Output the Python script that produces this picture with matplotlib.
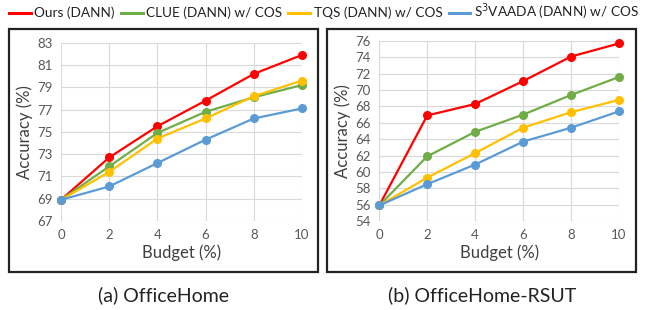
import matplotlib
matplotlib.use("Agg")
import matplotlib.pyplot as plt
from matplotlib.patches import Rectangle
from matplotlib.lines import Line2D

plt.rcParams['font.family'] = ['Lato', 'DejaVu Sans']

budget = [0, 2, 4, 6, 8, 10]
series_names = ["Ours (DANN)", "CLUE (DANN) w/ COS", "TQS (DANN) w/ COS", "S$^3$VAADA (DANN) w/ COS"]
colors = ["#FF0000", "#70AD47", "#FFC000", "#5B9BD5"]

# (a) OfficeHome
oh_ours = [68.9, 72.7, 75.5, 77.8, 80.2, 81.9]
oh_clue = [68.9, 71.9, 74.9, 76.8, 78.1, 79.2]
oh_tqs = [68.9, 71.4, 74.4, 76.2, 78.2, 79.6]
oh_s3 = [68.9, 70.1, 72.2, 74.3, 76.2, 77.1]
oh_yticks = [67, 69, 71, 73, 75, 77, 79, 81, 83]

# (b) OfficeHome-RSUT
rs_ours = [55.9, 66.9, 68.3, 71.1, 74.1, 75.7]
rs_clue = [55.9, 61.9, 64.9, 67.0, 69.4, 71.6]
rs_tqs = [55.9, 59.3, 62.3, 65.4, 67.3, 68.8]
rs_s3 = [55.9, 58.5, 60.9, 63.7, 65.4, 67.4]
rs_yticks = [54, 56, 58, 60, 62, 64, 66, 68, 70, 72, 74, 76]

captions = ["(a) OfficeHome", "(b) OfficeHome-RSUT"]

W, H = 648, 310
fig = plt.figure(figsize=(W / 100, H / 100), dpi=100)

def fx(px):
    return px / W

def fy(py):
    return 1 - py / H

def draw(ax, data, yticks):
    for vals, c in zip(data, colors):
        ax.plot(budget, vals, color=c, lw=1.6, marker='o', ms=5.5, zorder=3, clip_on=False)
    ax.set_xlim(0, 10)
    ax.set_ylim(yticks[0], yticks[-1])
    ax.set_xticks(budget)
    ax.set_yticks(yticks)
    ax.grid(True, color="#D9D9D9", lw=0.8)
    ax.set_axisbelow(True)
    for s in ax.spines.values():
        s.set_visible(False)
    ax.tick_params(length=0, labelsize=9.5, labelcolor="#595959", pad=6)
    ax.set_xlabel("Budget (%)", fontsize=12, color="#404040", labelpad=2)
    ax.set_ylabel("Accuracy (%)", fontsize=12, color="#404040", labelpad=3)

ax1 = fig.add_axes([fx(61), fy(221), fx(302 - 61), (221 - 42.7) / H])
draw(ax1, [oh_ours, oh_clue, oh_tqs, oh_s3], oh_yticks)
ax2 = fig.add_axes([fx(379.3), fy(221), fx(619 - 379.3), (221 - 41) / H])
draw(ax2, [rs_ours, rs_clue, rs_tqs, rs_s3], rs_yticks)

# panel boxes
for x0, x1 in [(9, 318), (327, 636)]:
    fig.patches.append(Rectangle((fx(x0), fy(272)), fx(x1 - x0), (272 - 28.5) / H,
                                 transform=fig.transFigure, fill=False,
                                 edgecolor="#222222", lw=1.6, zorder=0))

handles = [Line2D([], [], color=c, lw=2.2) for c in colors]
fig.legend(handles, series_names, loc='center', bbox_to_anchor=(0.5, fy(12)), ncol=4,
           frameon=False, fontsize=9.8, handlelength=1.6, handletextpad=0.25,
           columnspacing=0.45, borderaxespad=0, borderpad=0, labelcolor="#222222")

fig.text(fx(163), fy(295), captions[0], ha='center', va='center', fontsize=14, color="#222222")
fig.text(fx(482), fy(295), captions[1], ha='center', va='center', fontsize=14, color="#222222")

fig.savefig("out.png", dpi=100)
